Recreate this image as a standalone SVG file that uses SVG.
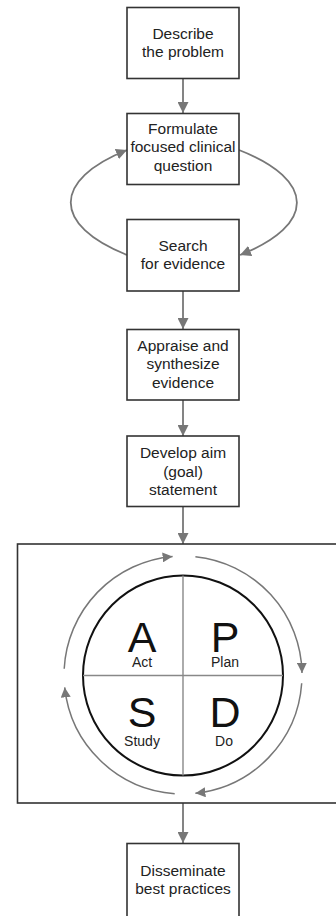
<svg xmlns="http://www.w3.org/2000/svg" width="336" height="916" viewBox="0 0 336 916">
<style>
.box{fill:#fff;stroke:#333;stroke-width:1.6}
.t{font-family:"Liberation Sans",Arial,sans-serif;font-size:15.5px;fill:#222;text-anchor:middle}
.big{font-family:"Liberation Sans",Arial,sans-serif;font-size:43px;fill:#111;text-anchor:middle}
.lbl{font-family:"Liberation Sans",Arial,sans-serif;font-size:14px;fill:#222;text-anchor:middle}
.con{fill:none;stroke:#777;stroke-width:1.8}
.arc{fill:none;stroke:#777;stroke-width:1.5}
</style>
<defs>
<marker id="ah" markerUnits="userSpaceOnUse" markerWidth="11" markerHeight="11" refX="11" refY="5.5" orient="auto" viewBox="0 0 11 11">
<path d="M0,0 L11,5.5 L0,11 z" fill="#777"/>
</marker>
<marker id="ah2" markerUnits="userSpaceOnUse" markerWidth="10" markerHeight="10" refX="10" refY="5" orient="auto" viewBox="0 0 10 10">
<path d="M0,0 L10,5 L0,10 z" fill="#777"/>
</marker>
</defs>
<g id="connectors">
<path class="con" d="M183,78 L183,113" marker-end="url(#ah)"/>
<path class="con" d="M239,150 C316,180 316,225 240,255" marker-end="url(#ah)"/>
<path class="con" d="M127,255 C52,225 52,180 127,150" marker-end="url(#ah)"/>
<path class="con" d="M183,291 L183,329" marker-end="url(#ah)"/>
<path class="con" d="M183,400 L183,436" marker-end="url(#ah)"/>
<path class="con" d="M183,507 L183,544" marker-end="url(#ah)"/>
<path class="con" d="M183,803 L183,843" marker-end="url(#ah)"/>
</g>
<g id="describe">
<rect class="box" x="127" y="7.5" width="112" height="71"/>
<text class="t" x="183" y="38.5">Describe</text>
<text class="t" x="183" y="57">the problem</text>
</g>
<g id="formulate">
<rect class="box" x="127" y="113.5" width="112" height="71"/>
<text class="t" x="183" y="133.5">Formulate</text>
<text class="t" x="183" y="152.3">focused clinical</text>
<text class="t" x="183" y="170.5">question</text>
</g>
<g id="search">
<rect class="box" x="127" y="219.5" width="112" height="71.5"/>
<text class="t" x="183" y="250.7">Search</text>
<text class="t" x="183" y="269.3">for evidence</text>
</g>
<g id="appraise">
<rect class="box" x="127" y="329.5" width="112" height="70.5"/>
<text class="t" x="183" y="350.7">Appraise and</text>
<text class="t" x="183" y="369.3">synthesize</text>
<text class="t" x="183" y="387.7">evidence</text>
</g>
<g id="develop">
<rect class="box" x="127" y="436" width="112" height="70.5"/>
<text class="t" x="183" y="457.7">Develop aim</text>
<text class="t" x="183" y="476.5">(goal)</text>
<text class="t" x="183" y="495">statement</text>
</g>
<g id="pdsa">
<rect class="box" x="17.5" y="544" width="330" height="259"/>
<circle cx="183" cy="675.5" r="100" fill="none" stroke="#111" stroke-width="2"/>
<line x1="183" y1="575.5" x2="183" y2="775.5" stroke="#888" stroke-width="1.4"/>
<line x1="83" y1="675.5" x2="283" y2="675.5" stroke="#888" stroke-width="1.4"/>
<text class="big" x="142" y="651.7">A</text>
<text class="lbl" x="142" y="667.3">Act</text>
<text class="big" x="225" y="651.7">P</text>
<text class="lbl" x="225" y="667.3">Plan</text>
<text class="big" x="142" y="726.7">S</text>
<text class="lbl" x="142" y="746">Study</text>
<text class="big" x="225" y="726.7">D</text>
<text class="lbl" x="224" y="745.5">Do</text>
<path class="arc" d="M64.2,668.8 A119,119 0 0 1 172.6,556.5" marker-end="url(#ah2)"/>
<path class="arc" d="M195.4,556.7 A119,119 0 0 1 302,672.9" marker-end="url(#ah2)"/>
<path class="arc" d="M301.7,683.3 A119,119 0 0 1 195.4,793.3" marker-end="url(#ah2)"/>
<path class="arc" d="M174.7,793.7 A119,119 0 0 1 64.7,687.4" marker-end="url(#ah2)"/>
</g>
<g id="disseminate">
<rect class="box" x="127" y="843.5" width="112" height="80"/>
<text class="t" x="183" y="876">Disseminate</text>
<text class="t" x="183" y="894.3">best practices</text>
</g>
</svg>
